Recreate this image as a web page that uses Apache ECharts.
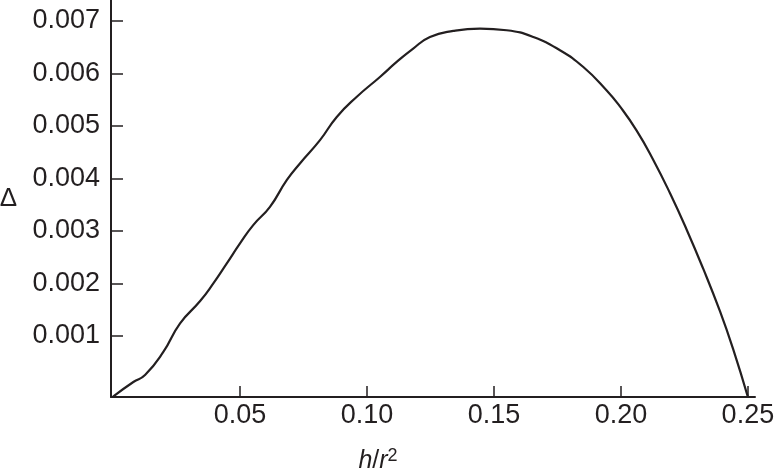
<!DOCTYPE html>
<html>
<head>
<meta charset="utf-8">
<script src="https://cdn.jsdelivr.net/npm/echarts@6/dist/echarts.min.js"></script>
<style>html,body{margin:0;padding:0;background:#fff}#c{width:774px;height:472px}</style>
</head>
<body>
<div id="c"></div>
<script>
// h/r^2 values
const xValues = [0, 0.0080, 0.0126, 0.0198, 0.0264, 0.0343, 0.0395, 0.0448, 0.0500, 0.0552, 0.0618, 0.0684, 0.0736, 0.0815, 0.0881, 0.0959, 0.1051, 0.1117, 0.1182, 0.1248, 0.1340, 0.1445, 0.1550, 0.1655, 0.1760, 0.1852, 0.1944, 0.1996, 0.2062, 0.2127, 0.2193, 0.2259, 0.2324, 0.2390, 0.2442, 0.2500];
// Delta values
const deltaValues = [-0.00016, 0.000118, 0.000251, 0.00069, 0.001236, 0.001661, 0.001998, 0.002379, 0.00276, 0.003109, 0.003457, 0.003966, 0.004284, 0.004728, 0.005171, 0.005552, 0.005933, 0.006219, 0.006474, 0.006695, 0.00681, 0.006855, 0.006823, 0.006695, 0.006442, 0.006122, 0.005676, 0.005371, 0.00491, 0.004356, 0.00372, 0.003021, 0.002278, 0.001467, 0.000745, -0.000168];
const xTicks = [0.05, 0.10, 0.15, 0.20, 0.25];
const yTicks = [0.001, 0.002, 0.003, 0.004, 0.005, 0.006, 0.007];

const ink = '#231f20';
const chart = echarts.init(document.getElementById('c'));
chart.setOption({
  animation: false,
  grid: {left: 111, right: 19, top: 0, bottom: 75, containLabel: false, outerBoundsMode: 'none'},
  xAxis: {
    type: 'value', min: -0.0008, max: 0.2528,
    name: '{i|h}/{i|r}{s|2}', nameLocation: 'middle', nameGap: 50,
    nameTextStyle: {
      color: ink, fontFamily: 'Liberation Sans', fontSize: 25, padding: [0, 110, 0, 0],
      rich: {
        i: {fontStyle: 'italic', fontSize: 25, color: ink, fontFamily: 'Liberation Sans'},
        s: {fontSize: 18, color: ink, fontFamily: 'Liberation Sans', verticalAlign: 'top', padding: [0, 0, 10, 0]}
      }
    },
    splitLine: {show: false},
    axisLine: {show: true, onZero: false, lineStyle: {color: ink, width: 2}},
    axisTick: {show: true, inside: true, length: 11, customValues: xTicks, lineStyle: {color: ink, width: 1.5}},
    axisLabel: {show: true, customValues: xTicks, margin: 5, color: ink, fontFamily: 'Liberation Sans', fontSize: 27,
      formatter: v => v.toFixed(2)}
  },
  yAxis: {
    type: 'value', min: -0.000168, max: 0.0074,
    name: 'Δ', nameLocation: 'middle', nameRotate: 0, nameGap: 94,
    nameTextStyle: {color: ink, fontFamily: 'Liberation Sans', fontSize: 26},
    splitLine: {show: false},
    axisLine: {show: true, onZero: false, lineStyle: {color: ink, width: 2}},
    axisTick: {show: true, inside: true, length: 12, customValues: yTicks, lineStyle: {color: ink, width: 1.5}},
    axisLabel: {show: true, customValues: yTicks, margin: 11, color: ink, fontFamily: 'Liberation Sans', fontSize: 27,
      formatter: v => v.toFixed(3)}
  },
  series: [{
    type: 'line',
    data: xValues.map((x, i) => [x, deltaValues[i]]),
    smooth: 0.5,
    showSymbol: false,
    clip: false,
    lineStyle: {color: ink, width: 2.2}
  }]
});
</script>
</body>
</html>
